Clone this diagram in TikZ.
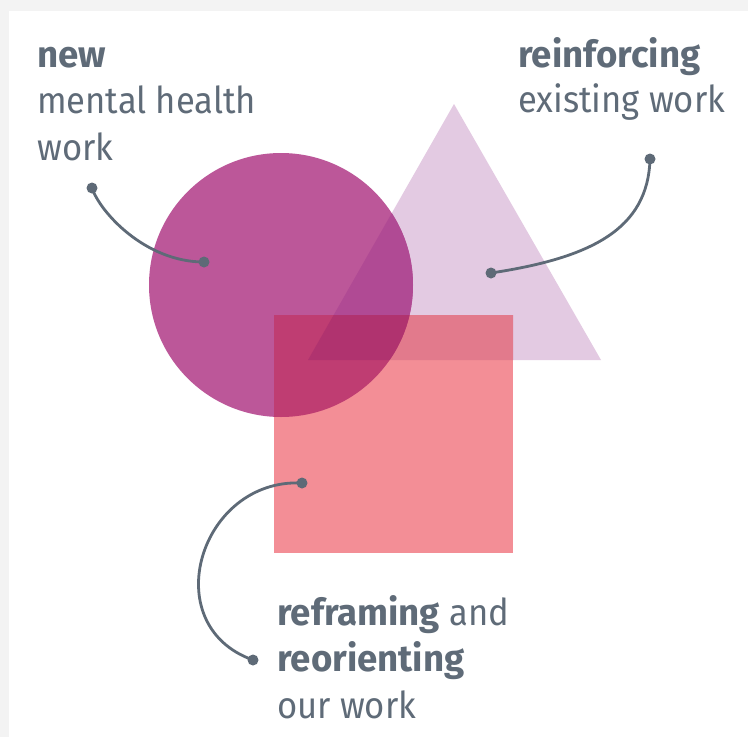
\documentclass[tikz,border=0pt]{standalone}
\usepackage{fontspec}
\setmainfont{Fira Sans}[FakeStretch=0.935,BoldFeatures={FakeStretch=0.99}]
\definecolor{bggray}{HTML}{F3F3F3}
\definecolor{txt}{HTML}{5F6B78}
\definecolor{lnc}{HTML}{5E6A77}
\definecolor{tri}{HTML}{E3CAE2}
\definecolor{circ}{HTML}{BC5799}
\definecolor{ct}{HTML}{B04A94}
\definecolor{sq}{HTML}{F38E96}
\definecolor{st}{HTML}{E27A8C}
\definecolor{sc}{HTML}{BF3D72}
\definecolor{sct}{HTML}{B0336F}
\begin{document}
\begin{tikzpicture}[x=1pt,y=-1pt,
  lbl/.style={anchor=base west,inner sep=0pt,text=txt,font=\fontsize{37}{47}\selectfont},
  dotnode/.style={circle,fill=lnc,inner sep=0pt,minimum size=11pt},
  conn/.style={draw=lnc,line width=2.8pt}]
\useasboundingbox (0,0) rectangle (748,737);
\fill[bggray] (0,0) rectangle (748,737);
\fill[white] (9,11) rectangle (748,737);
\def\tripath{(454,104) -- (601,360) -- (308,360) -- cycle}
\def\circpath{(281,285) circle[radius=132]}
\def\sqpath{(274,315) rectangle (513,553)}
% triangle and circle
\fill[tri] \tripath;
\fill[circ] \circpath;
\begin{scope}\clip \circpath; \fill[ct] \tripath; \end{scope}
% square
\fill[sq] \sqpath;
\begin{scope}\clip \sqpath; \fill[st] \tripath; \end{scope}
\begin{scope}\clip \sqpath; \fill[sc] \circpath; \end{scope}
\begin{scope}\clip \sqpath; \clip \circpath; \fill[sct] \tripath; \end{scope}
% labels
\node[lbl] (n1) at (37,67) {\bfseries new};
\node[lbl] (n2) at (37,113) {mental health};
\node[lbl] (n3) at (37,160) {work};
\node[lbl] (r1) at (518,67) {\bfseries reinforcing};
\node[lbl] (r2) at (518,112) {existing work};
\node[lbl] (b1) at (277,625) {\textbf{reframing} and};
\node[lbl] (b2) at (277,671) {\bfseries reorienting};
\node[lbl] (b3) at (277,718) {our work};
% connectors
\node[dotnode] (a1) at (92,188) {};
\node[dotnode] (a2) at (204,262) {};
\node[dotnode] (c1) at (650,159) {};
\node[dotnode] (c2) at (491,273) {};
\node[dotnode] (e1) at (302,483) {};
\node[dotnode] (e2) at (253,660) {};
\draw[conn] (a1.center) .. controls (100,212) and (145,262) .. (a2.center);
\draw[conn] (c1.center) .. controls (648,230) and (590,258) .. (c2.center);
\draw[conn] (e1.center) .. controls (200,478) and (155,625) .. (e2.center);
\end{tikzpicture}
\end{document}
